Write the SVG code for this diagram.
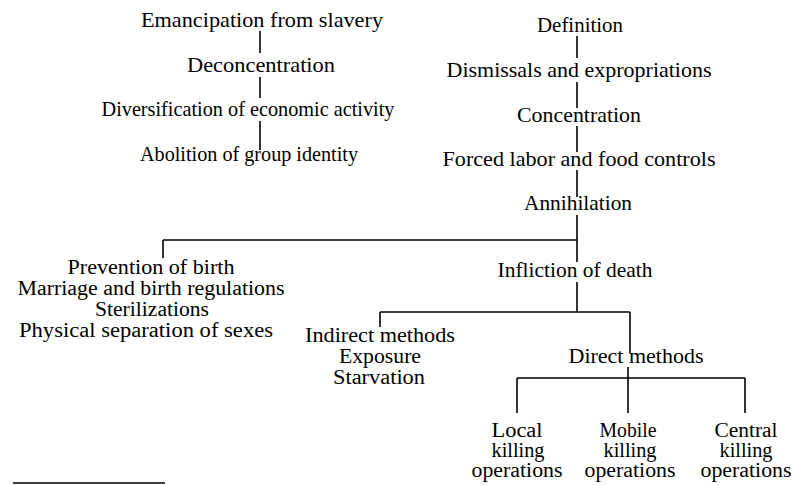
<svg xmlns="http://www.w3.org/2000/svg" width="795" height="485" viewBox="0 0 795 485">
<style>
.t text{font-family:'Liberation Serif','DejaVu Serif','Times New Roman',serif;font-size:21px;fill:#000;text-anchor:middle}
.t .s text{font-size:20px}
.c line{stroke:#000;stroke-width:1.6;fill:none}
</style>
<rect width="795" height="485" fill="#fff"/>
<g class="c" id="connectors">
<line x1="260" y1="31" x2="260" y2="53"/>
<line x1="260" y1="77" x2="260" y2="98"/>
<line x1="260" y1="121" x2="260" y2="150"/>
<line x1="577" y1="36" x2="577" y2="58"/>
<line x1="577" y1="82" x2="577" y2="108"/>
<line x1="577" y1="126" x2="577" y2="152"/>
<line x1="577" y1="170" x2="577" y2="197"/>
<line x1="577" y1="215" x2="577" y2="262"/>
<line x1="163" y1="240" x2="577" y2="240"/>
<line x1="163" y1="240" x2="163" y2="258"/>
<line x1="577" y1="282" x2="577" y2="312"/>
<line x1="380" y1="312" x2="630" y2="312"/>
<line x1="380" y1="312" x2="380" y2="327"/>
<line x1="630" y1="312" x2="630" y2="353"/>
<line x1="628" y1="367" x2="628" y2="413"/>
<line x1="517" y1="378" x2="745" y2="378"/>
<line x1="517" y1="378" x2="517" y2="413"/>
<line x1="745" y1="378" x2="745" y2="413"/>
<line x1="13" y1="483" x2="165" y2="483"/>
</g>
<g class="t">
<g id="emancipation"><text x="262" y="27" textLength="242" lengthAdjust="spacingAndGlyphs">Emancipation from slavery</text></g>
<g id="deconcentration"><text x="261" y="72" textLength="148" lengthAdjust="spacingAndGlyphs">Deconcentration</text></g>
<g id="diversification"><text x="248" y="116" textLength="293" lengthAdjust="spacingAndGlyphs">Diversification of economic activity</text></g>
<g id="abolition"><text x="249" y="161" textLength="218" lengthAdjust="spacingAndGlyphs">Abolition of group identity</text></g>
<g id="definition"><text x="580" y="32" textLength="86" lengthAdjust="spacingAndGlyphs">Definition</text></g>
<g id="dismissals"><text x="579" y="77" textLength="265" lengthAdjust="spacingAndGlyphs">Dismissals and expropriations</text></g>
<g id="concentration"><text x="579" y="122" textLength="124" lengthAdjust="spacingAndGlyphs">Concentration</text></g>
<g id="forced-labor"><text x="579" y="166" textLength="273" lengthAdjust="spacingAndGlyphs">Forced labor and food controls</text></g>
<g id="annihilation"><text x="578" y="210" textLength="108" lengthAdjust="spacingAndGlyphs">Annihilation</text></g>
<g id="prevention" class="s"><text x="151" y="274" textLength="167" lengthAdjust="spacingAndGlyphs">Prevention of birth</text><text x="151" y="295" textLength="267" lengthAdjust="spacingAndGlyphs">Marriage and birth regulations</text><text x="152" y="316" textLength="114" lengthAdjust="spacingAndGlyphs">Sterilizations</text><text x="146" y="337" textLength="254" lengthAdjust="spacingAndGlyphs">Physical separation of sexes</text></g>
<g id="infliction"><text x="575" y="277" textLength="155" lengthAdjust="spacingAndGlyphs">Infliction of death</text></g>
<g id="indirect" class="s"><text x="380" y="342" textLength="150" lengthAdjust="spacingAndGlyphs">Indirect methods</text><text x="380" y="363" textLength="82" lengthAdjust="spacingAndGlyphs">Exposure</text><text x="379" y="384" textLength="92" lengthAdjust="spacingAndGlyphs">Starvation</text></g>
<g id="direct"><text x="636" y="363" textLength="135" lengthAdjust="spacingAndGlyphs">Direct methods</text></g>
<g id="local" class="s"><text x="517" y="437" textLength="51" lengthAdjust="spacingAndGlyphs">Local</text><text x="518" y="457" textLength="53" lengthAdjust="spacingAndGlyphs">killing</text><text x="517" y="477" textLength="91" lengthAdjust="spacingAndGlyphs">operations</text></g>
<g id="mobile" class="s"><text x="628" y="437" textLength="57" lengthAdjust="spacingAndGlyphs">Mobile</text><text x="630" y="457" textLength="53" lengthAdjust="spacingAndGlyphs">killing</text><text x="630" y="477" textLength="91" lengthAdjust="spacingAndGlyphs">operations</text></g>
<g id="central" class="s"><text x="746" y="437" textLength="63" lengthAdjust="spacingAndGlyphs">Central</text><text x="746" y="457" textLength="53" lengthAdjust="spacingAndGlyphs">killing</text><text x="746" y="477" textLength="91" lengthAdjust="spacingAndGlyphs">operations</text></g>
</g>
</svg>
